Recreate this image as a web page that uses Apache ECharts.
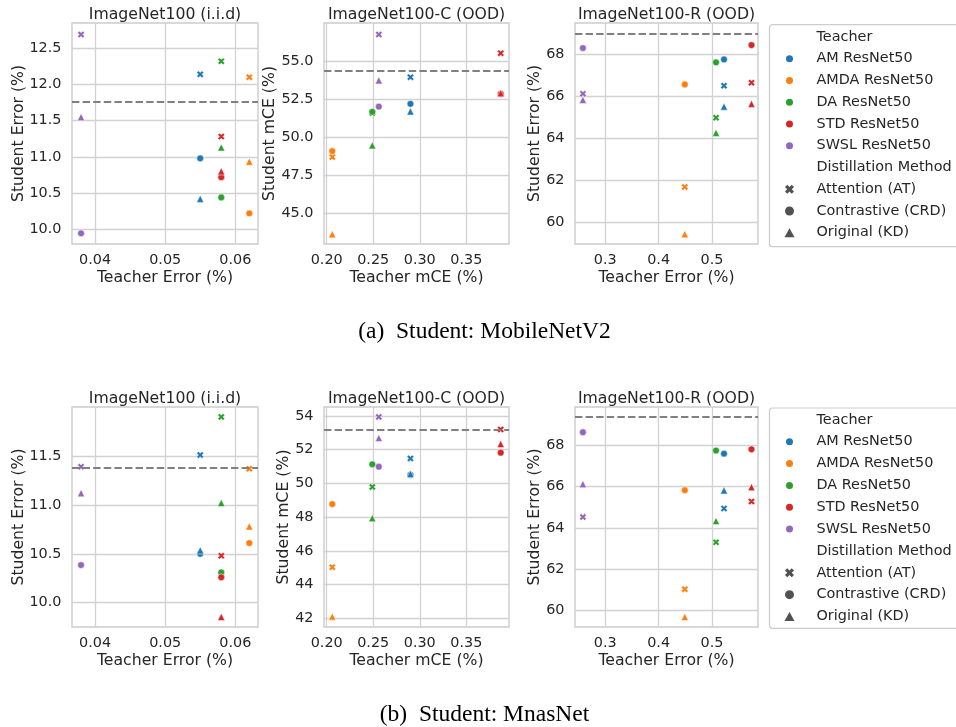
<!DOCTYPE html>
<html><head><meta charset="utf-8">
<script src="https://cdn.jsdelivr.net/npm/echarts@6/dist/echarts.min.js"></script>
<style>html,body{margin:0;padding:0;background:#fff}#c{width:956px;height:727px}</style>
</head><body><div id="c"></div>
<script>
// ---------------- data ----------------
const teachers = ['AM ResNet50', 'AMDA ResNet50', 'DA ResNet50', 'STD ResNet50', 'SWSL ResNet50'];
const methods = ['Attention (AT)', 'Contrastive (CRD)', 'Original (KD)'];
const panelTitles = ['ImageNet100 (i.i.d)', 'ImageNet100-C (OOD)', 'ImageNet100-R (OOD)'];
const xNames = ['Teacher Error (%)', 'Teacher mCE (%)', 'Teacher Error (%)'];
const yNames = ['Student Error (%)', 'Student mCE (%)', 'Student Error (%)'];
const captions = ['(a)\u2002Student: MobileNetV2', '(b)\u2002Student: MnasNet'];

// teacher metric (x) per teacher
const teacherErrIID = [0.055, 0.062, 0.058, 0.058, 0.038];
const teacherMCE = [0.290, 0.206, 0.249, 0.387, 0.256];
const teacherErrR = [0.5225, 0.449, 0.5075, 0.574, 0.258];

// student values per teacher: [AT, CRD, KD]
const mobileIID = [[12.14, 10.98, 10.42], [12.10, 10.22, 10.935], [12.32, 10.44, 11.13], [11.28, 10.72, 10.80], [12.69, 9.945, 11.55]];
const mobileMCE = [[53.95, 52.20, 51.70], [48.71, 49.10, 43.65], [51.60, 51.67, 49.48], [55.52, 52.85, 52.90], [56.75, 52.02, 53.74]];
const mobileR = [[66.51, 67.76, 65.52], [61.70, 66.57, 59.46], [64.99, 67.62, 64.27], [66.65, 68.44, 65.65], [66.13, 68.30, 65.84]];
const mnasIID = [[11.51, 10.50, 10.535], [11.37, 10.61, 10.78], [11.90, 10.31, 11.02], [10.48, 10.26, 9.855], [11.39, 10.385, 11.12]];
const mnasMCE = [[51.48, 50.50, 50.56], [45.03, 48.77, 42.10], [49.79, 51.13, 47.94], [53.20, 51.82, 52.34], [53.94, 50.99, 52.69]];
const mnasR = [[64.94, 67.61, 65.82], [61.01, 65.83, 59.66], [63.29, 67.76, 64.33], [65.28, 67.82, 65.98], [64.52, 68.65, 66.13]];

// student baselines (dashed lines)
const mobileBaseline = [11.76, 54.35, 68.96];
const mnasBaseline = [11.385, 53.19, 69.40];

// tick labels
const xTicksIID = [0.04, 0.05, 0.06];
const xTicksMCE = [0.20, 0.25, 0.30, 0.35];
const xTicksR = [0.3, 0.4, 0.5];
const yTicksMobileIID = [10.0, 10.5, 11.0, 11.5, 12.0, 12.5];
const yTicksMobileMCE = [45.0, 47.5, 50.0, 52.5, 55.0];
const yTicksMobileR = [60, 62, 64, 66, 68];
const yTicksMnasIID = [10.0, 10.5, 11.0, 11.5];
const yTicksMnasMCE = [42, 44, 46, 48, 50, 52, 54];
const yTicksMnasR = [60, 62, 64, 66, 68];

// ---------------- style ----------------
const colors = ['#1f77b4', '#ff7f0e', '#2ca02c', '#d62728', '#9467bd'];
const xPath = 'path://M0.25,0 L0.5,0.25 L0.75,0 L1,0.25 L0.75,0.5 L1,0.75 L0.75,1 L0.5,0.75 L0.25,1 L0,0.75 L0.25,0.5 L0,0.25 Z';
const triPath = 'path://M0.5,0 L1,0.9 L0,0.9 Z';
const methodSymbols = [xPath, 'circle', triPath];
const methodSizes = [7, 6.8, 7.2];
const FONT = 'DejaVu Sans';
const TXT = '#262626';
const GRIDC = '#d2d2d2';

const panels = [
  {left: 72, top: 23, width: 186, height: 221, xr: [0.03671, 0.06324], yr: [9.797, 12.849], xv: teacherErrIID, vals: mobileIID, base: mobileBaseline[0], xt: xTicksIID, xd: 2, yt: yTicksMobileIID, yd: 1, col: 0, yGap: 45},
  {left: 324, top: 23, width: 185, height: 221, xr: [0.1971, 0.3959], yr: [43.01, 57.50], xv: teacherMCE, vals: mobileMCE, base: mobileBaseline[1], xt: xTicksMCE, xd: 2, yt: yTicksMobileMCE, yd: 1, col: 1, yGap: 46},
  {left: 575, top: 23, width: 183, height: 221, xr: [0.2432, 0.5862], yr: [58.99, 69.49], xv: teacherErrR, vals: mobileR, base: mobileBaseline[2], xt: xTicksR, xd: 1, yt: yTicksMobileR, yd: 0, col: 2, yGap: 32},
  {left: 72, top: 407, width: 186, height: 220, xr: [0.03671, 0.06324], yr: [9.752, 12.001], xv: teacherErrIID, vals: mnasIID, base: mnasBaseline[0], xt: xTicksIID, xd: 2, yt: yTicksMnasIID, yd: 1, col: 0, yGap: 45},
  {left: 324, top: 407, width: 185, height: 220, xr: [0.1971, 0.3959], yr: [41.48, 54.53], xv: teacherMCE, vals: mnasMCE, base: mnasBaseline[1], xt: xTicksMCE, xd: 2, yt: yTicksMnasMCE, yd: 0, col: 1, yGap: 32},
  {left: 575, top: 407, width: 183, height: 220, xr: [0.2432, 0.5862], yr: [59.17, 69.88], xv: teacherErrR, vals: mnasR, base: mnasBaseline[2], xt: xTicksR, xd: 1, yt: yTicksMnasR, yd: 0, col: 2, yGap: 32}
];

const grids = [], xAxes = [], yAxes = [], series = [], titles = [];
panels.forEach((p, i) => {
  grids.push({left: p.left, top: p.top, width: p.width, height: p.height, show: true,
    borderColor: '#cccccc', borderWidth: 1.4, backgroundColor: '#fff', containLabel: false, outerBoundsMode: 'none'});
  xAxes.push({type: 'value', gridIndex: i, min: p.xr[0], max: p.xr[1],
    name: xNames[p.col], nameLocation: 'middle', nameGap: 26, nameMoveOverlap: false,
    nameTextStyle: {fontFamily: FONT, fontSize: 15.7, color: TXT},
    axisLine: {show: false}, axisTick: {show: false, customValues: p.xt},
    axisLabel: {customValues: p.xt, formatter: v => Number(v).toFixed(p.xd), margin: 9,
      fontFamily: FONT, fontSize: 14.4, color: TXT, showMinLabel: true, showMaxLabel: true, hideOverlap: false},
    splitLine: {show: true, lineStyle: {color: GRIDC, width: 1.3}}});
  yAxes.push({type: 'value', gridIndex: i, min: p.yr[0], max: p.yr[1],
    name: yNames[p.col], nameLocation: 'middle', nameGap: p.yGap, nameMoveOverlap: false,
    nameTextStyle: {fontFamily: FONT, fontSize: 15.7, color: TXT},
    axisLine: {show: false}, axisTick: {show: false, customValues: p.yt},
    axisLabel: {customValues: p.yt, formatter: v => Number(v).toFixed(p.yd), margin: 10.5,
      fontFamily: FONT, fontSize: 14.4, color: TXT, hideOverlap: false},
    splitLine: {show: true, lineStyle: {color: GRIDC, width: 1.3}}});
  titles.push({text: panelTitles[p.col], left: p.left + p.width / 2, top: p.top - 16, textAlign: 'center', padding: 0,
    textStyle: {fontFamily: FONT, fontSize: 15.7, fontWeight: 'normal', color: TXT}});
  teachers.forEach((t, ti) => {
    const s = {type: 'scatter', name: t, xAxisIndex: i, yAxisIndex: i,
      data: methods.map((m, k) => ({value: [p.xv[ti], p.vals[ti][k]], symbol: methodSymbols[k], symbolSize: methodSizes[k]})),
      itemStyle: {color: colors[ti], borderColor: '#ffffff', borderWidth: 0.5, opacity: 1},
      emphasis: {disabled: true}, animation: false, z: 3};
    if (ti === 0) {
      s.markLine = {silent: true, symbol: 'none', animation: false, label: {show: false},
        lineStyle: {type: [7.4, 3.2], color: '#808080', width: 2, opacity: 1},
        emphasis: {disabled: true}, data: [{yAxis: p.base}]};
    }
    series.push(s);
  });
});

// legend helper series (no data)
series.push({type: 'scatter', name: 'Teacher', data: [], itemStyle: {color: 'rgba(0,0,0,0)'}});
series.push({type: 'scatter', name: 'Distillation Method', data: [], itemStyle: {color: 'rgba(0,0,0,0)'}});
methods.forEach((m, k) => series.push({type: 'scatter', name: m, data: [], symbol: methodSymbols[k], itemStyle: {color: '#262626'}}));

const legendData = [{name: 'Teacher', icon: 'circle', itemStyle: {color: 'rgba(0,0,0,0)', opacity: 0}}]
  .concat(teachers.map(t => ({name: t, icon: 'circle'})))
  .concat([{name: 'Distillation Method', icon: 'circle', itemStyle: {color: 'rgba(0,0,0,0)', opacity: 0}}])
  .concat(methods.map((m, k) => ({name: m, icon: methodSymbols[k]})));

const legendBase = {orient: 'vertical', left: 784, padding: 0, itemWidth: 44, itemHeight: 9, selectedMode: false,
  symbolKeepAspect: true, textStyle: {fontFamily: FONT, fontSize: 14.4, color: TXT, lineHeight: 17}, data: legendData};

captions.forEach((c, i) => titles.push({text: c, left: 484.5, top: i === 0 ? 319.5 : 702.5, textAlign: 'center', padding: 0,
  textStyle: {fontFamily: 'Liberation Serif', fontSize: 23.5, fontWeight: 'normal', color: '#000'}}));

const option = {
  backgroundColor: '#ffffff',
  animation: false,
  title: titles,
  grid: grids, xAxis: xAxes, yAxis: yAxes, series: series,
  legend: [Object.assign({}, legendBase, {top: 28.5, itemGap: 4.75}), Object.assign({}, legendBase, {top: 411.3, itemGap: 4.86})],
  graphic: [
    {type: 'rect', shape: {x: 769.5, y: 24.7, width: 200, height: 222, r: 3}, style: {fill: 'none', stroke: '#cccccc', lineWidth: 1.2}, silent: true},
    {type: 'rect', shape: {x: 769.5, y: 408, width: 200, height: 220.3, r: 3}, style: {fill: 'none', stroke: '#cccccc', lineWidth: 1.2}, silent: true}
  ]
};
const chart = echarts.init(document.getElementById('c'), null, {renderer: 'canvas', width: 956, height: 727});
chart.setOption(option);
</script></body></html>
